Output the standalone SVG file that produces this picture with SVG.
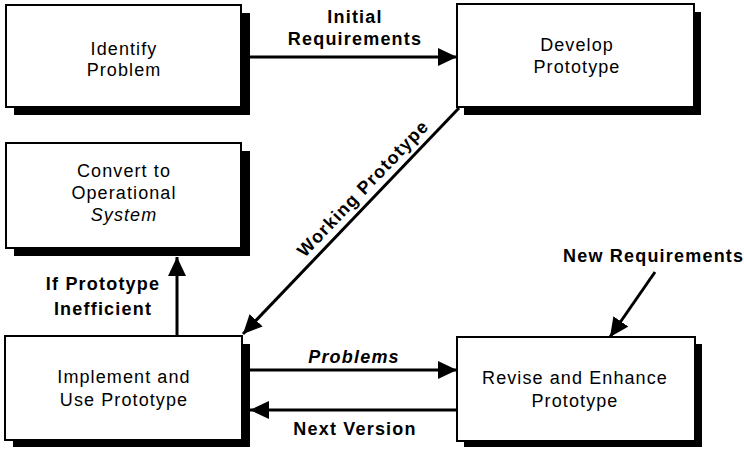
<svg xmlns="http://www.w3.org/2000/svg" width="744" height="451" viewBox="0 0 744 451">
<style>
.box{fill:#fff;stroke:#000;stroke-width:2}
.shadow{fill:#000}
.t{font-family:"Liberation Sans",Arial,sans-serif;font-size:18px;letter-spacing:1.1px;text-anchor:middle;fill:#000}
.lb{font-family:"Liberation Sans",Arial,sans-serif;font-size:18px;font-weight:bold;letter-spacing:1.2px;text-anchor:middle;fill:#000}
.c{stroke:#000;stroke-width:3;fill:none;marker-end:url(#ah)}
</style>
<defs>
<marker id="ah" markerUnits="userSpaceOnUse" markerWidth="22" markerHeight="20" refX="19" refY="9" orient="auto">
<path d="M0,0 L19,9 L0,18 z" fill="#000"/>
</marker>
</defs>
<rect width="744" height="451" fill="#fff"/>
<g id="identify">
<rect class="shadow" x="14" y="13" width="236" height="102"/>
<rect class="box" x="6" y="5" width="235" height="102"/>
<text class="t" x="124" y="55">Identify</text>
<text class="t" x="124" y="76">Problem</text>
</g>
<g id="develop">
<rect class="shadow" x="464" y="12" width="237" height="103"/>
<rect class="box" x="457" y="4" width="237" height="103"/>
<text class="t" x="577" y="51">Develop</text>
<text class="t" x="577" y="73">Prototype</text>
</g>
<g id="convert">
<rect class="shadow" x="14" y="151" width="236" height="105"/>
<rect class="box" x="6" y="143" width="235" height="105"/>
<text class="t" x="124" y="177">Convert to</text>
<text class="t" x="124" y="199">Operational</text>
<text class="t" x="124" y="221" font-style="italic">System</text>
</g>
<g id="implement">
<rect class="shadow" x="13" y="344" width="237" height="103"/>
<rect class="box" x="5" y="336" width="237" height="104"/>
<text class="t" x="124" y="383">Implement and</text>
<text class="t" x="124" y="406">Use Prototype</text>
</g>
<g id="revise">
<rect class="shadow" x="464" y="344" width="238" height="103"/>
<rect class="box" x="457" y="337" width="238" height="104"/>
<text class="t" x="575" y="384">Revise and Enhance</text>
<text class="t" x="575" y="407">Prototype</text>
</g>
<g id="connectors">
<line class="c" x1="250" y1="57" x2="457" y2="57"/>
<text class="lb" x="355" y="23">Initial</text>
<text class="lb" x="355" y="45">Requirements</text>
<line class="c" x1="459" y1="108" x2="243" y2="334"/>
<g transform="translate(371,196) rotate(-46.3)"><text class="lb" x="0" y="-5">Working Prototype</text></g>
<line class="c" x1="177" y1="336" x2="177" y2="257"/>
<text class="lb" x="103" y="290">If Prototype</text>
<text class="lb" x="103" y="315">Inefficient</text>
<line class="c" x1="655" y1="272" x2="610" y2="337"/>
<text class="lb" x="563" y="262" style="text-anchor:start">New Requirements</text>
<line class="c" x1="250" y1="370" x2="457" y2="370"/>
<text class="lb" x="354" y="363" font-style="italic">Problems</text>
<line class="c" x1="457" y1="410" x2="250" y2="410"/>
<text class="lb" x="355" y="435">Next Version</text>
</g>
</svg>
